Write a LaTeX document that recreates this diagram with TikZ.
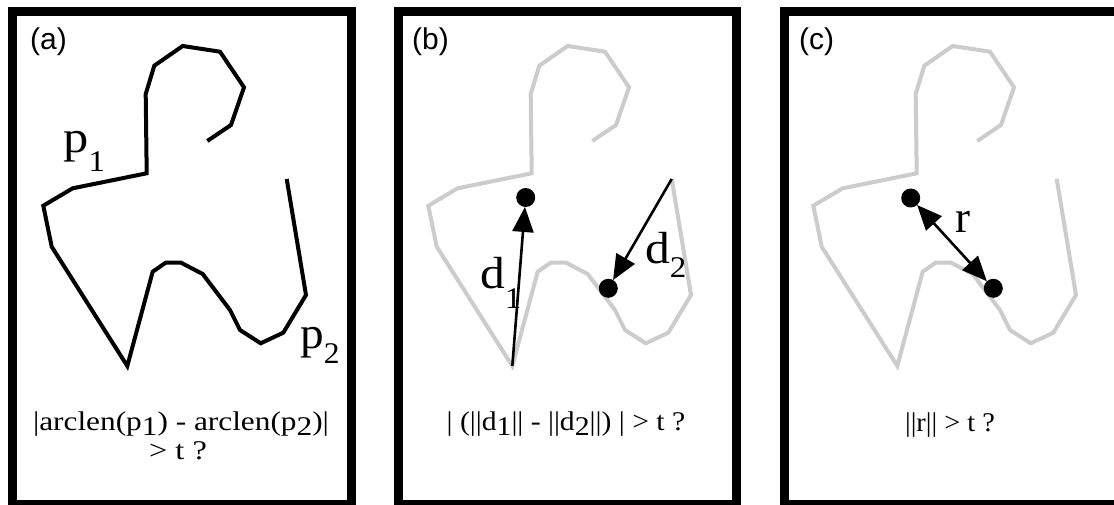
\documentclass[tikz,border=0pt]{standalone}
\usepackage{fontspec}
\setmainfont{Liberation Serif}
\newfontfamily\labelfont{Liberation Sans}
\usetikzlibrary{arrows.meta}
\definecolor{curvegray}{RGB}{204,204,204}
\newcommand\lowsub[2]{\raisebox{-#1}{#2}}
\newcommand\wide[2]{\scalebox{#1}[1]{#2}}
\begin{document}
\begin{tikzpicture}[x=1pt,y=-1pt,
  frame/.style={draw=black,line width=9pt,minimum width=338.5pt,minimum height=492.5pt,inner sep=0pt,outer sep=0pt},
  curveline/.style={line width=4pt,line join=miter},
  dot/.style={circle,fill=black,minimum size=19pt,inner sep=0pt,outer sep=0pt},
  tip/.style={-{Triangle[length=25pt,width=21pt]}},
  arr/.style={line width=2.6pt},
  panellabel/.style={font=\labelfont\fontsize{30}{32}\selectfont,anchor=base west,inner sep=0pt},
  biglabel/.style={font=\fontsize{45}{48}\selectfont,anchor=base west,inner sep=0pt},
  formula/.style={font=\fontsize{27}{29}\selectfont,anchor=base,inner sep=0pt}
]
\useasboundingbox (0,0) rectangle (1114,505);
\fill[white] (0,0) rectangle (1114,505);

% frames
\node[frame] (fa) at (181.75,257.75) {};
\node[frame] (fb) at (567.25,257.75) {};
\node[frame] (fc) at (953.25,257.75) {};

% panel labels
\node[panellabel] (la) at (30,50) {(a)};
\node[panellabel] (lb) at (412,50) {(b)};
\node[panellabel] (lc) at (799,50) {(c)};

% curves
\foreach \off/\col in {0/black,385/curvegray,770/curvegray}{
  \begin{scope}[xshift=\off]
    \draw[curveline,draw=\col] (207.3,141) -- (231,125) -- (244,87.3) -- (220,51.7)
      -- (182.7,46) -- (154.3,65.7) -- (145.7,94) -- (146.7,173.3) -- (72.7,188.3)
      -- (43.3,205.7) -- (51.7,246.7) -- (127.3,366) coordinate (bot\off)
      -- (152.7,271.7) -- (165.7,262.7) -- (181,262.7) -- (202.7,274) -- (230,310)
      -- (240,330) -- (260.7,343.3) -- (283.3,332.7) -- (306,295)
      -- (286.7,179) coordinate (end\off);
  \end{scope}
}

% panel (a) labels
\node[biglabel] (p1) at (63,153) {\wide{1.12}{p\lowsub{19pt}{\fontsize{30}{30}\selectfont 1}}};
\node[biglabel] (p2) at (300,348) {\wide{1.05}{p\lowsub{15pt}{\fontsize{30}{30}\selectfont 2}}};
\node[formula] (ta) at (181,430) {\wide{1.16}{|arclen(p\lowsub{5pt}{1}) - arclen(p\lowsub{5pt}{2})|}};
\node[formula] (ta2) at (178,459) {\wide{1.2}{> t ?}};

% panel (b)
\node[dot] (b1) at (525.7,197.5) {};
\node[dot] (b2) at (608.3,288.3) {};
\draw[arr,tip] (bot385) -- (b1);
\draw[arr,tip] (end385) -- (b2);
\node[biglabel] (d1) at (480,288) {\wide{1.1}{d\lowsub{20pt}{\fontsize{30}{30}\selectfont 1}}};
\node[biglabel] (d2) at (645,263) {\wide{1.1}{d\lowsub{14pt}{\fontsize{30}{30}\selectfont 2}}};
\node[formula] (tb) at (566,430) {\wide{1.1}{| (||d\lowsub{5pt}{1}|| - ||d\lowsub{5pt}{2}||) | > t ?}};

% panel (c)
\node[dot] (c1) at (910.7,198) {};
\node[dot] (c2) at (993.3,288.3) {};
\draw[arr,{Triangle[length=25pt,width=21pt]}-{Triangle[length=25pt,width=21pt]}] (c1) -- (c2);
\node[biglabel] (r) at (955,233) {r};
\node[formula] (tc) at (950,431) {\wide{1.05}{||r|| > t ?}};
\end{tikzpicture}
\end{document}
